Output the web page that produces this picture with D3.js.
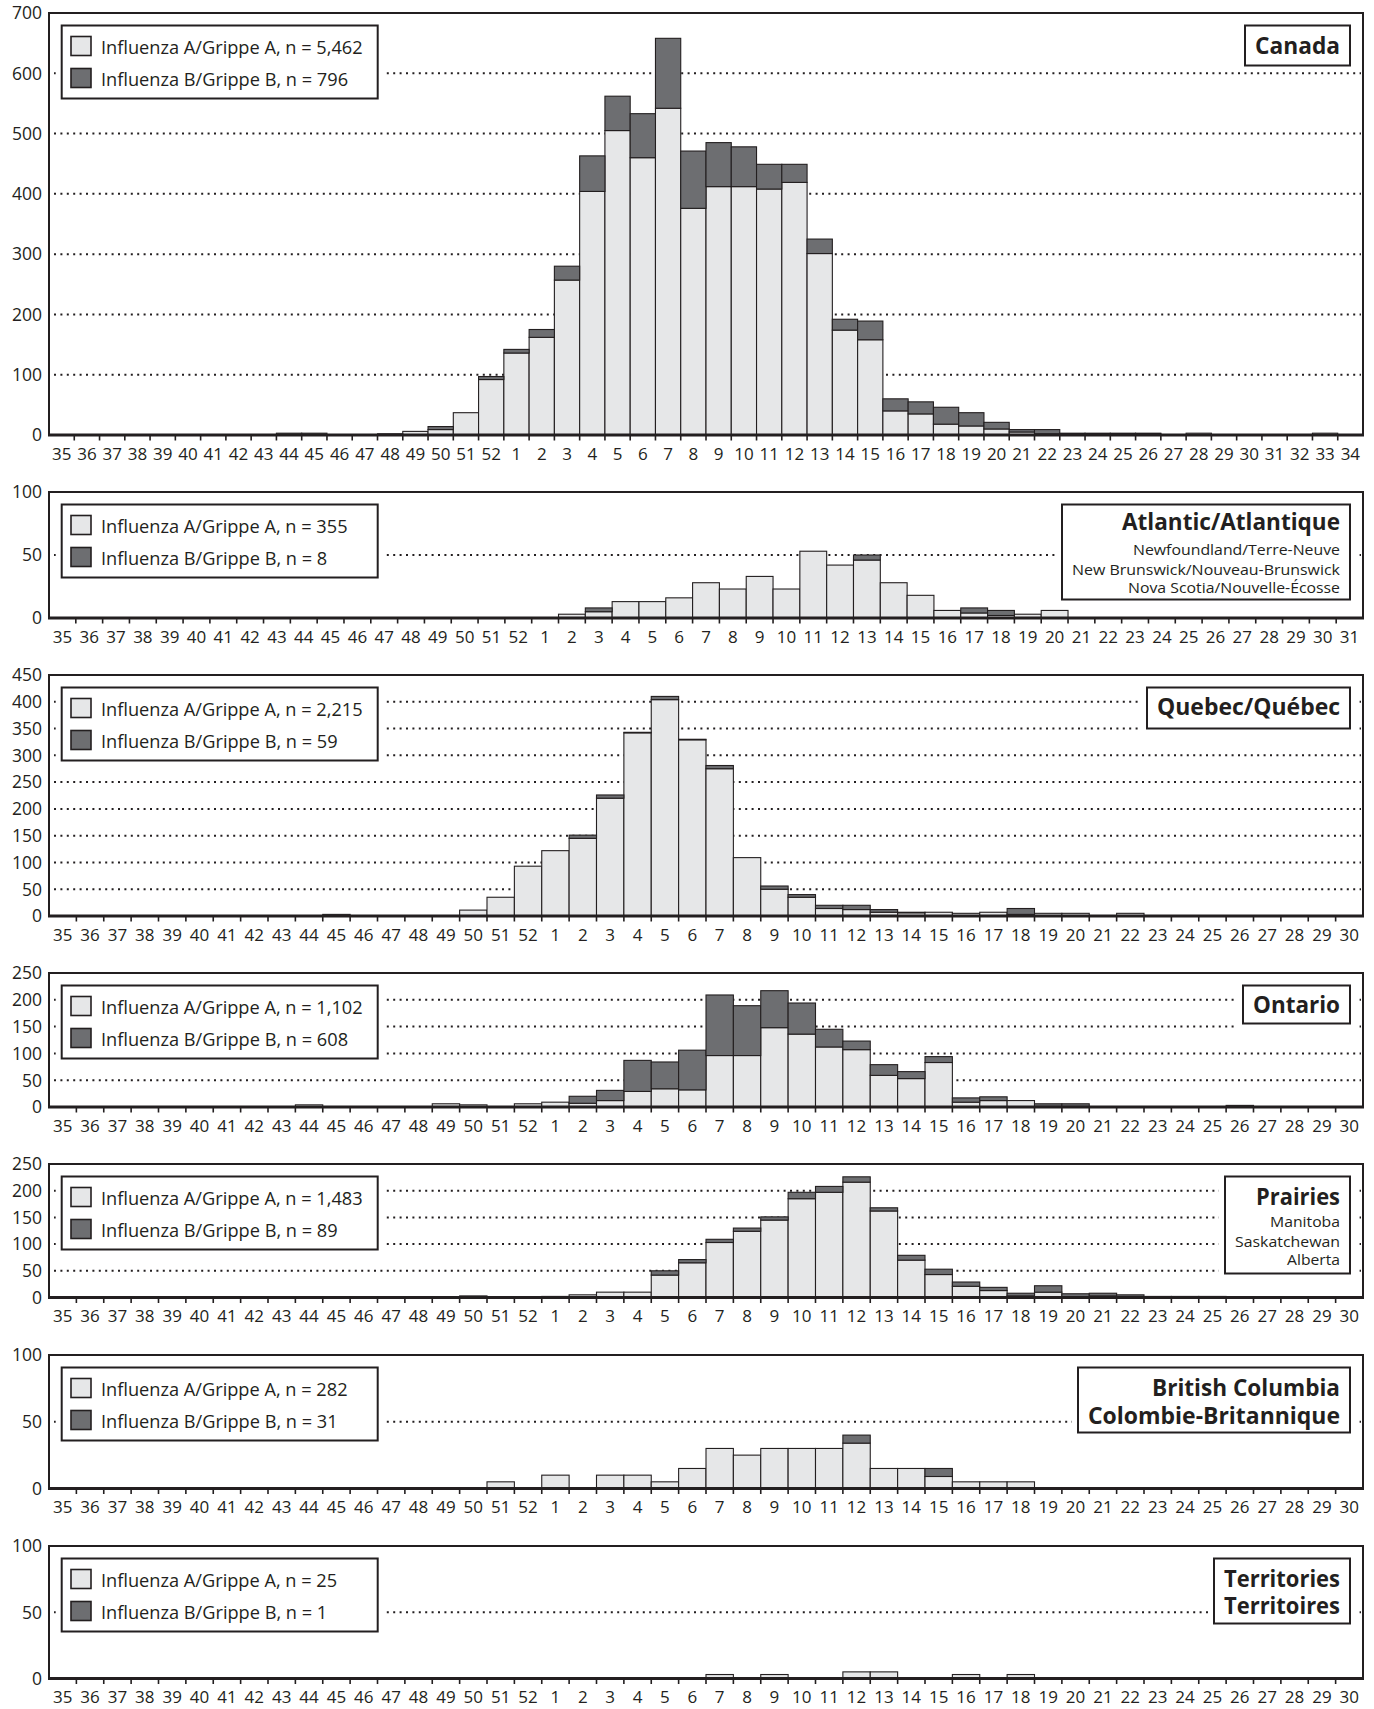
<!DOCTYPE html>
<html><head><meta charset="utf-8">
<script src="https://cdn.jsdelivr.net/npm/d3@7"></script>
<style>
body{margin:0;background:#fff;}
text{font-family:"Open Sans",sans-serif;fill:#231f20;}
</style></head><body>
<svg id="chart" width="1374" height="1709"></svg>
<script>
// ---- categories (surveillance weeks) ----
const weeks52 = [35,36,37,38,39,40,41,42,43,44,45,46,47,48,49,50,51,52,
  1,2,3,4,5,6,7,8,9,10,11,12,13,14,15,16,17,18,19,20,21,22,23,24,25,26,27,28,29,30,31,32,33,34];
const weeks49 = [35,36,37,38,39,40,41,42,43,44,45,46,47,48,49,50,51,52,
  1,2,3,4,5,6,7,8,9,10,11,12,13,14,15,16,17,18,19,20,21,22,23,24,25,26,27,28,29,30,31];
const weeks48 = [35,36,37,38,39,40,41,42,43,44,45,46,47,48,49,50,51,52,
  1,2,3,4,5,6,7,8,9,10,11,12,13,14,15,16,17,18,19,20,21,22,23,24,25,26,27,28,29,30];

// ---- series values (A = Influenza A, B = Influenza B) ----
const canadaA = [0,0,0,0,0,0,0,0,0,0,0,0,0,0,6,9,37,92,
  136,162,257,404,505,460,542,376,412,412,408,419,301,174,158,40,35,18,15,10,5,2,2,2,2,2,0,3,0,0,0,0,3,0];
const canadaB = [0,0,0,0,0,0,0,0,0,3,3,0,0,2,0,5,0,5,
  6,13,23,59,57,73,116,95,73,66,41,30,24,18,31,20,20,28,22,11,4,7,1,1,1,1,0,0,0,0,0,0,0,0];

const atlanticA = [0,0,0,0,0,0,0,0,0,0,0,0,0,0,0,0,0,0,
  0,3,5,13,13,16,28,23,33,23,53,42,46,28,18,6,4,2,3,6,0,0,0,0,0,0,0,0,0,0,0];
const atlanticB = [0,0,0,0,0,0,0,0,0,0,0,0,0,0,0,0,0,0,
  0,0,3,0,0,0,0,0,0,0,0,0,4,0,0,0,4,4,0,0,0,0,0,0,0,0,0,0,0,0,0];

const quebecA = [0,0,0,0,0,0,0,0,0,0,3,0,0,0,0,11,35,93,
  122,145,220,342,404,329,275,109,50,35,14,12,7,6,7,5,7,3,5,5,0,5,0,0,0,0,0,0,0,0];
const quebecB = [0,0,0,0,0,0,0,0,0,0,0,0,0,0,0,0,0,0,
  0,6,6,1,6,1,6,0,6,5,6,8,5,1,0,0,0,11,0,0,0,0,0,0,0,0,0,0,0,0];

const ontarioA = [0,0,0,0,0,0,0,0,0,4,0,0,0,0,6,4,0,6,
  9,7,12,29,34,32,96,96,148,136,112,107,59,53,83,9,12,12,1,1,0,0,0,0,0,0,0,0,0,0];
const ontarioB = [0,0,0,0,0,0,0,0,0,0,0,0,0,0,0,0,0,0,
  0,13,19,58,50,74,113,93,69,58,33,16,20,13,11,8,7,0,5,5,0,0,0,0,0,3,0,0,0,0];

const prairiesA = [0,0,0,0,0,0,0,0,0,0,0,0,0,0,0,3,0,0,
  2,5,10,10,42,65,103,124,145,185,197,216,162,70,43,21,13,3,10,1,3,1,2,2,2,0,0,0,0,0];
const prairiesB = [0,0,0,0,0,0,0,0,0,0,0,0,0,0,0,0,0,0,
  0,0,0,0,8,6,6,6,6,12,11,10,6,9,10,8,6,5,12,6,5,4,0,0,0,0,0,0,0,0];

const bcA = [0,0,0,0,0,0,0,0,0,0,0,0,0,0,0,0,5,0,
  10,0,10,10,5,15,30,25,30,30,30,34,15,15,9,5,5,5,0,0,0,0,0,0,0,0,0,0,0,0];
const bcB = [0,0,0,0,0,0,0,0,0,0,0,0,0,0,0,0,0,0,
  0,0,0,0,0,0,0,0,0,0,0,6,0,0,6,0,0,0,0,0,0,0,0,0,0,0,0,0,0,0];

const territoriesA = [0,0,0,0,0,0,0,0,0,0,0,0,0,0,0,0,0,0,
  0,0,0,0,0,0,3,0,3,0,0,5,5,0,0,3,0,3,0,0,0,0,0,0,0,0,0,0,0,0];
const territoriesB = [0,0,0,0,0,0,0,0,0,0,0,0,0,0,0,0,0,0,
  0,0,0,0,0,0,0,0,0,0,0,0,0,0,0,0,0,0,0,0,0,0,0,0,0,0,0,0,0,0];

// ---- legend counts ----
const countsA = ["5,462","355","2,215","1,102","1,483","282","25"];
const countsB = ["796","8","59","608","89","31","1"];

// ---- panel titles ----
const titleLines = [
  [{t:"Canada", bold:true}],
  [{t:"Atlantic/Atlantique", bold:true},{t:"Newfoundland/Terre-Neuve"},{t:"New Brunswick/Nouveau-Brunswick"},{t:"Nova Scotia/Nouvelle-\u00c9cosse"}],
  [{t:"Quebec/Qu\u00e9bec", bold:true}],
  [{t:"Ontario", bold:true}],
  [{t:"Prairies", bold:true},{t:"Manitoba"},{t:"Saskatchewan"},{t:"Alberta"}],
  [{t:"British Columbia", bold:true},{t:"Colombie-Britannique", bold:true}],
  [{t:"Territories", bold:true},{t:"Territoires", bold:true}]
];

// ---- layout (positions / styles) ----
const layout = [
  {weeks:weeks52, A:canadaA, B:canadaB, yMax:700, yStep:100, top:13, bottom:435,
   boxH:40, dys:[40.5], widths:[85]},
  {weeks:weeks49, A:atlanticA, B:atlanticB, yMax:100, yStep:50, top:492, bottom:618,
   boxH:95, dys:[38,63,82.5,101], widths:[218,207,268,212]},
  {weeks:weeks48, A:quebecA, B:quebecB, yMax:450, yStep:50, top:675, bottom:916,
   boxH:41, dys:[40], widths:[183]},
  {weeks:weeks48, A:ontarioA, B:ontarioB, yMax:250, yStep:50, top:973, bottom:1107,
   boxH:38, dys:[40], widths:[87]},
  {weeks:weeks48, A:prairiesA, B:prairiesB, yMax:250, yStep:50, top:1164, bottom:1297.5,
   boxH:97, dys:[41,62.7,82.7,101], widths:[84,70,105,53]},
  {weeks:weeks48, A:bcA, B:bcB, yMax:100, yStep:50, top:1355, bottom:1488.5,
   boxH:65, dys:[41,69], widths:[188,252]},
  {weeks:weeks48, A:territoriesA, B:territoriesB, yMax:100, yStep:50, top:1546, bottom:1678.5,
   boxH:65, dys:[40.7,68], widths:[116,116]}
];

const svg = d3.select('#chart');
const X0 = 49, X1 = 1363;
const ink = '#231f20', colA = '#e6e7e8', colB = '#6d6e71';

layout.forEach((p, pi) => {
  const g = svg.append('g');
  const x = d3.scaleBand().domain(p.weeks.map(String)).range([X0, X1]).padding(0);
  const y = d3.scaleLinear().domain([0, p.yMax]).range([p.bottom, p.top]);
  const ticks = d3.range(0, p.yMax + 1, p.yStep);

  // dotted grid
  g.selectAll('line.grid').data(ticks.filter(t => t > 0 && t < p.yMax)).join('line')
    .attr('class','grid')
    .attr('x1', X0 + 5).attr('x2', X1 - 2)
    .attr('y1', d => y(d)).attr('y2', d => y(d))
    .attr('stroke', ink).attr('stroke-width', 2).attr('stroke-dasharray', '2,4.4');

  // y labels
  g.selectAll('text.ylab').data(ticks).join('text')
    .attr('class','ylab')
    .attr('x', 42).attr('y', d => y(d)).attr('dy', '0.36em')
    .attr('text-anchor', 'end').attr('font-size', 17.5)
    .text(d => d);

  // bars
  const rows = p.weeks.map((w, i) => ({w: String(w), a: p.A[i], b: p.B[i]}));
  g.selectAll('rect.barA').data(rows.filter(r => r.a > 0)).join('rect')
    .attr('class','barA')
    .attr('x', d => x(d.w)).attr('width', x.bandwidth())
    .attr('y', d => y(d.a)).attr('height', d => y(0) - y(d.a))
    .attr('fill', colA).attr('stroke', ink).attr('stroke-width', 1.1);
  g.selectAll('rect.barB').data(rows.filter(r => r.b > 0)).join('rect')
    .attr('class','barB')
    .attr('x', d => x(d.w)).attr('width', x.bandwidth())
    .attr('y', d => y(d.a + d.b)).attr('height', d => y(d.a) - y(d.a + d.b))
    .attr('fill', colB).attr('stroke', ink).attr('stroke-width', 1.1);

  // frame
  g.append('rect').attr('x', X0).attr('y', p.top)
    .attr('width', X1 - X0).attr('height', p.bottom - p.top)
    .attr('fill', 'none').attr('stroke', ink).attr('stroke-width', 2);
  g.append('line').attr('x1', X0 - 1).attr('x2', X1 + 1)
    .attr('y1', p.bottom).attr('y2', p.bottom)
    .attr('stroke', ink).attr('stroke-width', 2.8);

  // x axis labels
  const ax = g.append('g').attr('transform', `translate(0,${p.bottom})`)
    .call(d3.axisBottom(x).tickSize(0).tickPadding(12.5));
  ax.select('.domain').remove();
  ax.selectAll('text').attr('font-size', 17).attr('font-family', '"Open Sans",sans-serif').attr('fill', ink);

  // boundary ticks
  g.selectAll('line.btick').data(p.weeks.slice(1)).join('line')
    .attr('class','btick')
    .attr('x1', d => x(String(d))).attr('x2', d => x(String(d)))
    .attr('y1', p.bottom).attr('y2', p.bottom + 5.5)
    .attr('stroke', ink).attr('stroke-width', 1.6);

  // legend
  const lg = g.append('g');
  const ly = p.top + 12.5;
  lg.append('rect').attr('x', 61.7 - 6).attr('y', ly - 6).attr('width', 316 + 12).attr('height', 73 + 12).attr('fill', '#fff');
  lg.append('rect').attr('x', 61.7).attr('y', ly).attr('width', 316).attr('height', 73)
    .attr('fill', '#fff').attr('stroke', ink).attr('stroke-width', 2);
  const legItems = [
    {c: colA, t: `Influenza A/Grippe A, n = ${countsA[pi]}`},
    {c: colB, t: `Influenza B/Grippe B, n = ${countsB[pi]}`}
  ];
  legItems.forEach((it, k) => {
    lg.append('rect').attr('x', 71).attr('y', ly + 11 + k * 32).attr('width', 20).attr('height', 19)
      .attr('fill', it.c).attr('stroke', ink).attr('stroke-width', 1.6);
    lg.append('text').attr('x', 101).attr('y', ly + 28 + k * 32)
      .attr('font-size', 18.2).text(it.t);
  });

  // title box
  const tg = g.append('g');
  titleLines[pi].forEach((ln, k) =>
    tg.append('text').attr('x', 1340).attr('y', p.top + p.dys[k])
      .attr('text-anchor', 'end')
      .attr('font-size', ln.bold ? 23 : 15)
      .attr('font-weight', ln.bold ? 700 : 400)
      .attr('textLength', p.widths[k]).attr('lengthAdjust', 'spacingAndGlyphs')
      .text(ln.t));
  const left = 1340 - d3.max(p.widths) - 10;
  const ty = p.top + 12.5;
  tg.insert('rect', ':first-child').attr('x', left).attr('y', ty).attr('width', 1350 - left).attr('height', p.boxH)
    .attr('fill', '#fff').attr('stroke', ink).attr('stroke-width', 2);
  tg.insert('rect', ':first-child').attr('x', left - 6).attr('y', ty - 6).attr('width', 1350 - left + 12).attr('height', p.boxH + 12)
    .attr('fill', '#fff');
});
</script>
</body></html>
